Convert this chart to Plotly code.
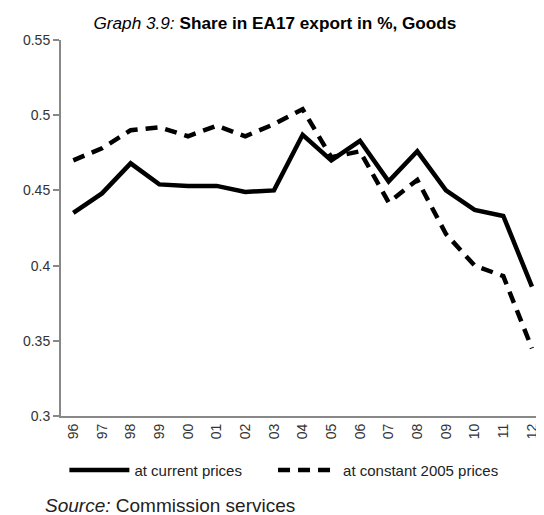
import plotly.graph_objects as go

years = ["96", "97", "98", "99", "00", "01", "02", "03", "04", "05", "06", "07", "08", "09", "10", "11", "12"]
current_prices = [0.435, 0.448, 0.468, 0.454, 0.453, 0.453, 0.449, 0.450, 0.487, 0.470, 0.483, 0.456, 0.476, 0.450, 0.437, 0.433, 0.386]
constant_2005_prices = [0.470, 0.478, 0.490, 0.492, 0.486, 0.493, 0.486, 0.494, 0.504, 0.472, 0.476, 0.442, 0.457, 0.421, 0.400, 0.393, 0.345]
y_ticks = [0.3, 0.35, 0.4, 0.45, 0.5, 0.55]
y_tick_labels = ["0.3", "0.35", "0.4", "0.45", "0.5", "0.55"]

fig = go.Figure()
fig.add_trace(go.Scatter(x=years, y=current_prices, mode="lines", name="at current prices",
                         line=dict(color="black", width=4.5), legend="legend"))
fig.add_trace(go.Scatter(x=years, y=constant_2005_prices, mode="lines", name="at constant 2005 prices",
                         line=dict(color="black", width=4.5, dash="12px,8px"), legend="legend2"))

legend_style = dict(orientation="h", xanchor="left", y=-0.144, yanchor="middle",
                    font=dict(size=15, color="#222"), itemwidth=60, bgcolor="rgba(0,0,0,0)")

# page has an 8px body margin, so the figure is 536x507
fig.update_layout(
    width=536, height=507,
    margin=dict(l=53, r=0, t=32, b=99),
    paper_bgcolor="white", plot_bgcolor="white",
    font=dict(family="Liberation Sans, Arial, sans-serif", color="#222"),
    title=dict(text="<i>Graph 3.9:</i> <b>Share in EA17 export in %, Goods</b>",
               x=0.498, xanchor="center", y=0.970, yanchor="middle",
               font=dict(size=17.2, color="black")),
    xaxis=dict(type="category", range=[-0.429, 16.42], tickangle=-90,
               showline=True, linecolor="#888", linewidth=2, ticks="",
               showgrid=False, zeroline=False, tickfont=dict(size=14, color="#333")),
    yaxis=dict(range=[0.3, 0.55], tickvals=y_ticks, ticktext=y_tick_labels,
               showline=True, linecolor="#888", linewidth=2, ticks="outside",
               ticklen=6, tickcolor="#888", tickwidth=1.5,
               showgrid=False, zeroline=False, tickfont=dict(size=14, color="#333")),
    legend=dict(x=0.007, **legend_style),
    legend2=dict(x=0.439, **legend_style),
    showlegend=True,
)
fig.add_annotation(text="<i>Source:</i> Commission services", xref="paper", yref="paper",
                   x=-0.037, xanchor="left", y=-0.237, yanchor="middle", showarrow=False,
                   font=dict(size=19, color="#222"))

fig.write_html("out.html")
